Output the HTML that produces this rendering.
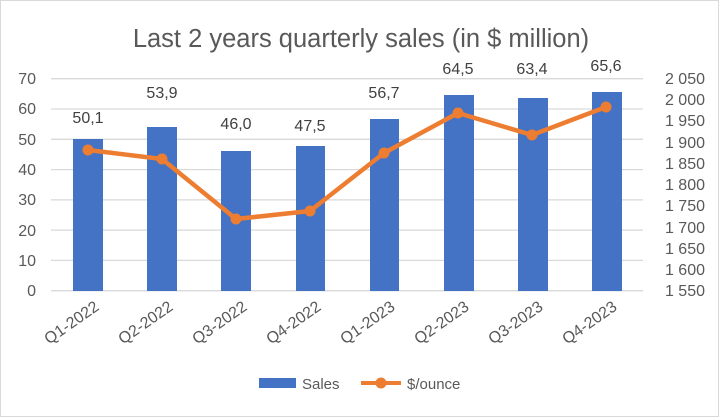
<!DOCTYPE html>
<html><head><style>
body{margin:0;background:#fff}
svg{display:block;font-family:"Liberation Sans",Calibri,sans-serif}
</style></head><body>
<svg width="719" height="417" viewBox="0 0 719 417">
<rect x="0.5" y="0.5" width="718" height="416" fill="#fff" stroke="#d9d9d9"/>
<text x="361" y="47" text-anchor="middle" font-size="25.5" fill="#595959">Last 2 years quarterly sales (in $ million)</text>
<g stroke="#d9d9d9" stroke-width="1.3">
<line x1="51" x2="643" y1="78.7" y2="78.7"/><line x1="51" x2="643" y1="109" y2="109"/>
<line x1="51" x2="643" y1="139.3" y2="139.3"/><line x1="51" x2="643" y1="169.6" y2="169.6"/>
<line x1="51" x2="643" y1="199.9" y2="199.9"/><line x1="51" x2="643" y1="230.1" y2="230.1"/>
<line x1="51" x2="643" y1="260.4" y2="260.4"/><line x1="51" x2="643" y1="290.7" y2="290.7"/>
</g>
<g fill="#595959" font-size="16" text-anchor="end">
<text x="36" y="84">70</text><text x="36" y="114">60</text><text x="36" y="145">50</text><text x="36" y="175">40</text>
<text x="36" y="205">30</text><text x="36" y="236">20</text><text x="36" y="266">10</text><text x="36" y="296">0</text>
</g>
<g fill="#595959" font-size="16" text-anchor="end">
<text x="705" y="84">2 050</text><text x="705" y="105">2 000</text><text x="705" y="126">1 950</text><text x="705" y="148">1 900</text>
<text x="705" y="169">1 850</text><text x="705" y="190">1 800</text><text x="705" y="211">1 750</text><text x="705" y="233">1 700</text>
<text x="705" y="254">1 650</text><text x="705" y="275">1 600</text><text x="705" y="296">1 550</text>
</g>
<g fill="#4472c4">
<rect x="73" y="139" width="30" height="152"/>
<rect x="147" y="127" width="30" height="164"/>
<rect x="221" y="151" width="30" height="140"/>
<rect x="296" y="146" width="29" height="145"/>
<rect x="370" y="119" width="29" height="172"/>
<rect x="444" y="95" width="30" height="196"/>
<rect x="518" y="98" width="30" height="193"/>
<rect x="592" y="92" width="30" height="199"/>
</g>
<g fill="#404040" font-size="16" text-anchor="middle">
<text x="88" y="123">50,1</text><text x="162" y="98">53,9</text><text x="236" y="129">46,0</text><text x="310" y="131">47,5</text>
<text x="384" y="98">56,7</text><text x="458" y="74">64,5</text><text x="532" y="74">63,4</text><text x="606" y="71">65,6</text>
</g>
<polyline fill="none" stroke="#ed7d31" stroke-width="4.5" stroke-linejoin="round" points="88,150 162,159 236,219 310,211 384,153 458,113 532,135 606,107"/>
<g fill="#ed7d31">
<circle cx="88" cy="150" r="5.5"/><circle cx="162" cy="159" r="5.5"/><circle cx="236" cy="219" r="5.5"/><circle cx="310" cy="211" r="5.5"/>
<circle cx="384" cy="153" r="5.5"/><circle cx="458" cy="113" r="5.5"/><circle cx="532" cy="135" r="5.5"/><circle cx="606" cy="107" r="5.5"/>
</g>
<g fill="#595959" font-size="16" text-anchor="end">
<text transform="translate(100,309) rotate(-35)">Q1-2022</text>
<text transform="translate(174,309) rotate(-35)">Q2-2022</text>
<text transform="translate(248,309) rotate(-35)">Q3-2022</text>
<text transform="translate(322,309) rotate(-35)">Q4-2022</text>
<text transform="translate(396,309) rotate(-35)">Q1-2023</text>
<text transform="translate(470,309) rotate(-35)">Q2-2023</text>
<text transform="translate(544,309) rotate(-35)">Q3-2023</text>
<text transform="translate(618,309) rotate(-35)">Q4-2023</text>
</g>
<rect x="259" y="378" width="37" height="10" fill="#4472c4"/>
<text x="302" y="389" font-size="15" fill="#595959">Sales</text>
<line x1="361" x2="401" y1="383" y2="383" stroke="#ed7d31" stroke-width="4"/>
<circle cx="381" cy="383" r="5.5" fill="#ed7d31"/>
<text x="407" y="389" font-size="15" fill="#595959">$/ounce</text>
</svg>
</body></html>
